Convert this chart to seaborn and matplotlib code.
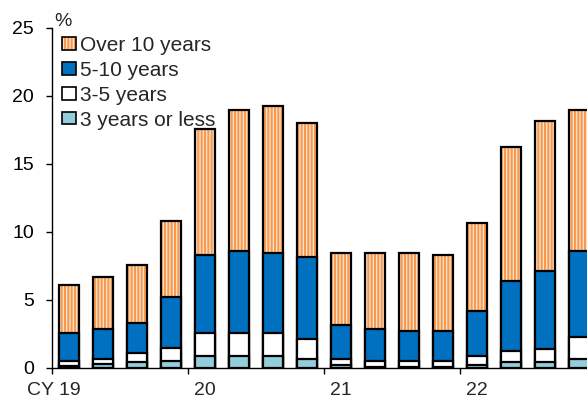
import matplotlib
matplotlib.use("Agg")
import matplotlib.pyplot as plt
from matplotlib.patches import Patch
from matplotlib.transforms import ScaledTranslation
import seaborn as sns

# ── Data (percent, stacked by maturity bucket) ──────────
quarters = ["19Q1", "19Q2", "19Q3", "19Q4",
            "20Q1", "20Q2", "20Q3", "20Q4",
            "21Q1", "21Q2", "21Q3", "21Q4",
            "22Q1", "22Q2", "22Q3", "22Q4"]
up_to_3y  = [0.12, 0.29, 0.41, 0.54, 0.85, 0.85, 0.85, 0.66,
             0.25, 0.05, 0.05, 0.05, 0.25, 0.41, 0.41, 0.66]
y3_to_5   = [0.38, 0.37, 0.72, 0.91, 1.75, 1.75, 1.75, 1.44,
             0.41, 0.49, 0.49, 0.49, 0.60, 0.84, 0.99, 1.64]
y5_to_10  = [2.10, 2.18, 2.20, 3.75, 5.73, 6.00, 5.88, 6.09,
             2.50, 2.35, 2.18, 2.18, 3.36, 5.15, 5.73, 6.30]
over_10y  = [3.50, 3.86, 4.24, 5.60, 9.22, 10.40, 10.82, 9.81,
             5.30, 5.57, 5.74, 5.61, 6.43, 9.85, 11.01, 10.40]
year_labels = ["CY 19", "20", "21", "22"]
y_ticks = [0, 5, 10, 15, 20, 25]

# ── Style ───────────────────────────────────────────────
sns.set_style("ticks")
plt.rcParams["font.family"] = ["Liberation Sans", "DejaVu Sans"]
plt.rcParams["hatch.linewidth"] = 1.5

PEACH  = "#FDE4CE"
ORANGE = "#F79A50"
BLUE   = "#0070C0"
LBLUE  = "#92CDDC"
EDGE_W = 1.6
BAR_W  = 0.6

cum1 = up_to_3y
cum2 = [a + b for a, b in zip(cum1, y3_to_5)]
cum3 = [a + b for a, b in zip(cum2, y5_to_10)]
cum4 = [a + b for a, b in zip(cum3, over_10y)]

fig = plt.figure(figsize=(5.87, 4.08), dpi=100)
ax = fig.add_axes([52 / 587, 40 / 408, 535 / 587, 340 / 408])

common = dict(x=quarters, order=quarters, errorbar=None, saturation=1,
              width=BAR_W, ax=ax)

# total (hatched over-10y layer), then black outline on top
sns.barplot(y=cum4, color=PEACH, hatch="|||||", edgecolor=ORANGE,
            linewidth=0, **common)
sns.barplot(y=cum4, fill=False, color="black", linewidth=EDGE_W, **common)
sns.barplot(y=cum3, color=BLUE, edgecolor="black", linewidth=EDGE_W, **common)
sns.barplot(y=cum2, color="white", edgecolor="black", linewidth=EDGE_W, **common)
sns.barplot(y=cum1, color=LBLUE, edgecolor="black", linewidth=EDGE_W, **common)

# ── Axes ────────────────────────────────────────────────
ax.set_xlim(-0.5, -0.5 + 535 / 34)
ax.set_ylim(0, 25)
ax.set_yticks(y_ticks)
ax.tick_params(axis="y", labelsize=14, length=4, width=1, pad=9, colors="black")

ax.set_xticks([-0.5, 3.5, 7.5, 11.5])
ax.set_xticklabels([])
ax.set_xticks([0, 4, 8, 12], minor=True)
ax.set_xticklabels(year_labels, minor=True)
ax.tick_params(axis="x", which="major", length=4, width=1, colors="black")
ax.tick_params(axis="x", which="minor", length=0, labelsize=14, pad=10)
first = ax.get_xticklabels(minor=True)[0]
first.set_horizontalalignment("right")
first.set_transform(first.get_transform() + ScaledTranslation(0.12, 0, fig.dpi_scale_trans))

ax.set_xlabel("")
ax.set_ylabel("")
for side in ["top", "right"]:
    ax.spines[side].set_visible(False)
for side in ["left", "bottom"]:
    ax.spines[side].set_color("black")
    ax.spines[side].set_linewidth(1)

ax.text(0.004, 0.995, "%", transform=ax.transAxes, fontsize=14,
        ha="left", va="bottom")

# ── Legend ──────────────────────────────────────────────
h_over = (Patch(facecolor=PEACH, hatch="|||||", edgecolor=ORANGE, linewidth=0),
          Patch(fill=False, edgecolor="black", linewidth=1.2))
h_510 = Patch(facecolor=BLUE, edgecolor="black", linewidth=1.2)
h_35 = Patch(facecolor="white", edgecolor="black", linewidth=1.2)
h_3 = Patch(facecolor=LBLUE, edgecolor="black", linewidth=1.2)
ax.legend([h_over, h_510, h_35, h_3],
          ["Over 10 years", "5-10 years", "3-5 years", "3 years or less"],
          loc="upper left", bbox_to_anchor=(62 / 587, 1 - 36 / 408),
          bbox_transform=fig.transFigure, frameon=False, fontsize=15,
          borderpad=0, borderaxespad=0, handlelength=0.65, handleheight=0.55,
          handletextpad=0.2, labelspacing=0.28)

fig.savefig("out.png", dpi=100)
plt.close(fig)
